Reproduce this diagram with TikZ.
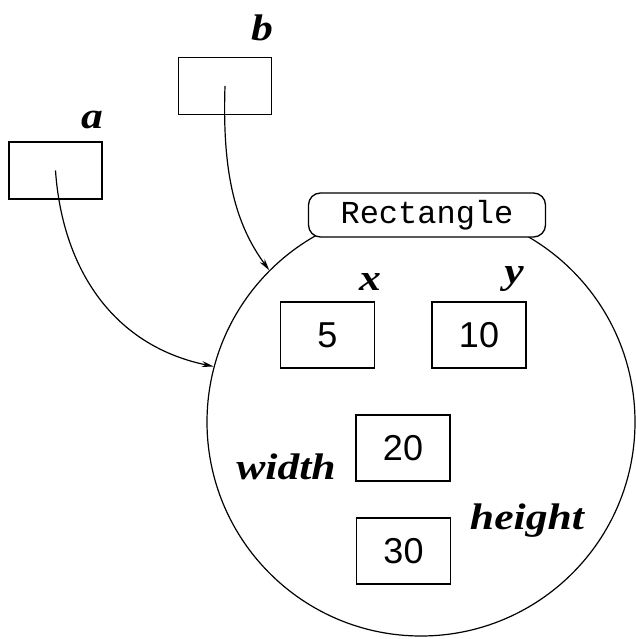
\documentclass[tikz,border=0pt]{standalone}
\usepackage{fontspec}
\setmainfont{Liberation Serif}
\newfontfamily\numfont{Liberation Sans}
\newfontfamily\codefont{Liberation Mono}
\usetikzlibrary{arrows.meta}
\newcommand{\widelabel}[1]{\scalebox{1.18}[1]{#1}}
\begin{document}
\begin{tikzpicture}[x=1pt,y=-1pt,
  varbox/.style={draw,line width=1.3pt,minimum width=93pt,minimum height=57pt,inner sep=0pt},
  valbox/.style={draw,line width=1.3pt,minimum width=94pt,minimum height=66pt,inner sep=0pt,font=\numfont\fontsize{36}{36}\selectfont},
  vname/.style={font=\bfseries\itshape\fontsize{37}{37}\selectfont,inner sep=0pt},
  ptr/.style={line width=1.2pt,-{Stealth[length=12pt,width=6pt]}}]
\useasboundingbox (0,0) rectangle (636,639);
% object circle
\node[draw,circle,line width=1.2pt,minimum size=428pt,inner sep=0pt] (obj) at (421,422) {};
\node[draw,line width=1.3pt,rounded corners=12pt,fill=white,minimum width=237pt,minimum height=44pt,inner sep=0pt,font=\codefont\fontsize{32}{32}\selectfont] (cls) at (427,215) {Rectangle};
% variable boxes
\node[varbox] (a) at (55.5,170.5) {};
\node[varbox] (b) at (225,86) {};
\node[vname] (la) at (92,120) {\widelabel{a}};
\node[vname] (lb) at (262,28) {\widelabel{b}};
% field boxes
\node[valbox] (x) at (327.5,335) {5};
\node[valbox] (y) at (479,335) {10};
\node[valbox] (w) at (403,448) {20};
\node[valbox] (h) at (403.5,551) {30};
\node[vname] (lx) at (370,282) {\widelabel{x}};
\node[vname] (ly) at (514,279) {\widelabel{y}};
\node[vname] (lw) at (286,467) {\widelabel{width}};
\node[vname] (lh) at (527,521) {\widelabel{height}};
% pointers
\draw[ptr] (a.center) .. controls (62,265) and (110,345) .. (obj.165);
\draw[ptr] (b.center) .. controls (222,175) and (236,225) .. (obj.135);
\end{tikzpicture}
\end{document}
